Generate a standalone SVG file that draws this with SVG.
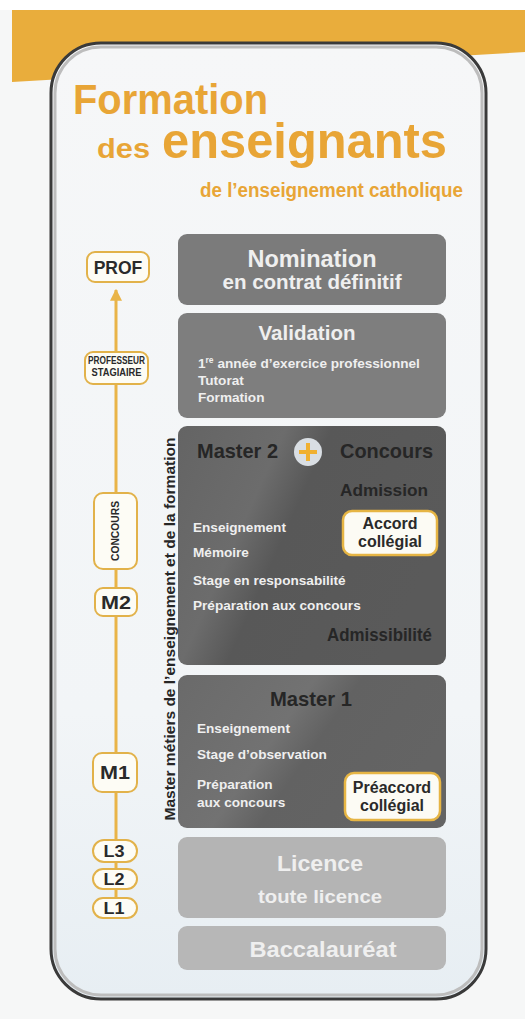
<svg xmlns="http://www.w3.org/2000/svg" width="525" height="1019" viewBox="0 0 525 1019">
<defs>
<style>
.ttl{font-family:"Liberation Sans",Arial,sans-serif;font-weight:bold;fill:#e8a536}
.box{stroke:none}
.lt{font-family:"Liberation Sans",Arial,sans-serif;font-weight:bold;fill:#efefef}
.it{font-size:13.6px}
.dk{font-family:"Liberation Sans",Arial,sans-serif;font-weight:bold;fill:#262626}
.tl{fill:#fdfcf5;stroke:#e2b24a;stroke-width:2}
.tt{font-family:"Liberation Sans",Arial,sans-serif;font-weight:bold;fill:#2a2a2a;text-anchor:middle}
.acc{fill:#fcfbf4;stroke:#e6b544;stroke-width:2.5}
.conn{stroke:#e9b448;stroke-width:3;fill:none}
</style>
<linearGradient id="gM2" x1="0" y1="0" x2="1" y2="0.4">
<stop offset="0" stop-color="#646464"/>
<stop offset="0.35" stop-color="#6c6c6c"/>
<stop offset="0.5" stop-color="#585858"/>
<stop offset="1" stop-color="#5a5a5a"/>
</linearGradient>
<linearGradient id="gM1" x1="0" y1="0" x2="1" y2="0.4">
<stop offset="0" stop-color="#6a6a6a"/>
<stop offset="0.45" stop-color="#727272"/>
<stop offset="0.6" stop-color="#626262"/>
<stop offset="1" stop-color="#646464"/>
</linearGradient>
<linearGradient id="gIn" x1="0" y1="0" x2="0" y2="1">
<stop offset="0" stop-color="#f6f7f8"/>
<stop offset="0.7" stop-color="#f2f5f7"/>
<stop offset="1" stop-color="#e7eef3"/>
</linearGradient>
<marker id="arr" viewBox="0 0 10 10" refX="9" refY="5" markerWidth="4" markerHeight="4" orient="auto" markerUnits="strokeWidth">
<path d="M0,0 L10,5 L0,10 z" fill="#e9b448"/>
</marker>
</defs>
<rect x="0" y="0" width="525" height="1019" fill="#f6f7f7"/>
<rect x="0" y="0" width="525" height="10" fill="#ffffff"/>
<polygon points="12,10 525,10 525,52 12,82" fill="#e9ad3c"/>
<g id="frame">
<rect x="51" y="43" width="435" height="956" rx="50" fill="url(#gIn)" stroke="#3a3a3a" stroke-width="3"/>
<rect x="55" y="47" width="427" height="948" rx="46" fill="none" stroke="#bdbdbd" stroke-width="3"/>
</g>
<g id="title">
<text class="ttl" x="73" y="114" font-size="43" textLength="195" lengthAdjust="spacingAndGlyphs">Formation</text>
<text class="ttl" x="97" y="158" font-size="28" textLength="53" lengthAdjust="spacingAndGlyphs">des</text>
<text class="ttl" x="162" y="158" font-size="50" textLength="285" lengthAdjust="spacingAndGlyphs">enseignants</text>
<text class="ttl" x="200" y="197" font-size="20" textLength="263" lengthAdjust="spacingAndGlyphs">de l’enseignement catholique</text>
</g>
<g id="nomination">
<rect class="box" x="178" y="234" width="268" height="71" rx="9" fill="#7b7b7b"/>
<text class="lt" x="312" y="267" font-size="23" text-anchor="middle" textLength="129" lengthAdjust="spacingAndGlyphs">Nomination</text>
<text class="lt" x="312" y="289" font-size="20" text-anchor="middle" textLength="179" lengthAdjust="spacingAndGlyphs">en contrat définitif</text>
</g>
<g id="validation">
<rect class="box" x="178" y="313" width="268" height="105" rx="9" fill="#7e7e7e"/>
<text class="lt" x="307" y="340" font-size="21" text-anchor="middle" textLength="97" lengthAdjust="spacingAndGlyphs">Validation</text>
<text class="lt it" x="198" y="368">1<tspan font-size="8.5" dy="-5">re</tspan><tspan dy="5"> année d’exercice professionnel</tspan></text>
<text class="lt it" x="198" y="385">Tutorat</text>
<text class="lt it" x="198" y="402">Formation</text>
</g>
<g id="master2">
<rect class="box" x="178" y="426" width="268" height="239" rx="9" fill="url(#gM2)"/>
<text class="dk" x="197" y="458" font-size="21" textLength="81" lengthAdjust="spacingAndGlyphs">Master 2</text>
<circle cx="308" cy="452" r="14" fill="#d9dee3"/>
<path d="M299,452 H317 M308,443 V461" stroke="#f0b030" stroke-width="4" fill="none"/>
<text class="dk" x="340" y="458" font-size="21" textLength="93" lengthAdjust="spacingAndGlyphs">Concours</text>
<text class="dk" x="340" y="496" font-size="17" textLength="88" lengthAdjust="spacingAndGlyphs">Admission</text>
<text class="lt it" x="193" y="532">Enseignement</text>
<text class="lt it" x="193" y="557">Mémoire</text>
<text class="lt it" x="193" y="585">Stage en responsabilité</text>
<text class="lt it" x="193" y="610">Préparation aux concours</text>
<text class="dk" x="327" y="641" font-size="18" textLength="105" lengthAdjust="spacingAndGlyphs">Admissibilité</text>
</g>
<g id="accord">
<rect class="acc" x="343" y="511" width="94" height="44" rx="9"/>
<text class="tt" x="390" y="529" font-size="16">Accord</text>
<text class="tt" x="390" y="547" font-size="16">collégial</text>
</g>
<g id="master1">
<rect class="box" x="178" y="675" width="268" height="153" rx="9" fill="url(#gM1)"/>
<text class="dk" x="311" y="706" font-size="21" text-anchor="middle" textLength="82" lengthAdjust="spacingAndGlyphs">Master 1</text>
<text class="lt it" x="197" y="733">Enseignement</text>
<text class="lt it" x="197" y="759">Stage d’observation</text>
<text class="lt it" x="197" y="789">Préparation</text>
<text class="lt it" x="197" y="807">aux concours</text>
</g>
<g id="preaccord">
<rect class="acc" x="345" y="773" width="95" height="47" rx="9"/>
<text class="tt" x="392" y="793" font-size="16">Préaccord</text>
<text class="tt" x="392" y="811" font-size="16">collégial</text>
</g>
<g id="licence">
<rect class="box" x="178" y="837" width="268" height="81" rx="9" fill="#b4b4b4"/>
<text class="lt" x="320" y="871" font-size="22" text-anchor="middle" textLength="86" lengthAdjust="spacingAndGlyphs" fill="#f2f2f2">Licence</text>
<text class="lt" x="320" y="903" font-size="19" text-anchor="middle" textLength="124" lengthAdjust="spacingAndGlyphs">toute licence</text>
</g>
<g id="bac">
<rect class="box" x="178" y="926" width="268" height="44" rx="9" fill="#b7b7b7"/>
<text class="lt" x="323" y="957" font-size="22" text-anchor="middle" textLength="147" lengthAdjust="spacingAndGlyphs">Baccalauréat</text>
</g>
<g id="axis-label">
<text class="dk" transform="translate(175,629) rotate(-90)" font-size="15.5" text-anchor="middle" textLength="383" lengthAdjust="spacingAndGlyphs" fill="#222">Master métiers de l’enseignement et de la formation</text>
</g>
<g id="connectors">
<line class="conn" x1="116" y1="352" x2="116" y2="290" marker-end="url(#arr)"/>
<line class="conn" x1="116" y1="493" x2="116" y2="384"/>
<line class="conn" x1="116" y1="588" x2="116" y2="569"/>
<line class="conn" x1="116" y1="753" x2="116" y2="616"/>
<line class="conn" x1="116" y1="840" x2="116" y2="792"/>
<line class="conn" x1="116" y1="869" x2="116" y2="862" stroke-width="4"/>
<line class="conn" x1="116" y1="898" x2="116" y2="889" stroke-width="4"/>
</g>
<g id="prof">
<rect class="tl" x="87" y="252" width="62" height="30" rx="8"/>
<text class="tt" x="118" y="274" font-size="17.5">PROF</text>
</g>
<g id="stagiaire">
<rect class="tl" x="85" y="352" width="63" height="32" rx="8"/>
<text class="tt" x="116.5" y="364" font-size="10.5" textLength="57" lengthAdjust="spacingAndGlyphs">PROFESSEUR</text>
<text class="tt" x="116.5" y="376" font-size="10.5" textLength="50" lengthAdjust="spacingAndGlyphs">STAGIAIRE</text>
</g>
<g id="concours">
<rect class="tl" x="94" y="493" width="43" height="76" rx="9"/>
<text class="tt" transform="translate(119,531) rotate(-90)" font-size="10.5" textLength="60" lengthAdjust="spacingAndGlyphs">CONCOURS</text>
</g>
<g id="m2">
<rect class="tl" x="95" y="588" width="42" height="28" rx="8"/>
<text class="tt" x="116" y="609" font-size="19" textLength="30" lengthAdjust="spacingAndGlyphs">M2</text>
</g>
<g id="m1">
<rect class="tl" x="93" y="753" width="44" height="39" rx="9"/>
<text class="tt" x="115" y="779" font-size="19" textLength="30" lengthAdjust="spacingAndGlyphs">M1</text>
</g>
<g id="l3">
<rect class="tl" x="93" y="840" width="44" height="22" rx="11" stroke-width="1.5"/>
<text class="tt" x="114" y="857" font-size="16" font-weight="normal" textLength="21" lengthAdjust="spacingAndGlyphs">L3</text>
</g>
<g id="l2">
<rect class="tl" x="93" y="869" width="44" height="20" rx="10" stroke-width="1.5"/>
<text class="tt" x="114" y="885" font-size="16" font-weight="normal" textLength="21" lengthAdjust="spacingAndGlyphs">L2</text>
</g>
<g id="l1">
<rect class="tl" x="93" y="898" width="44" height="20" rx="10" stroke-width="1.5"/>
<text class="tt" x="114" y="914" font-size="16" font-weight="normal" textLength="21" lengthAdjust="spacingAndGlyphs">L1</text>
</g>
</svg>
